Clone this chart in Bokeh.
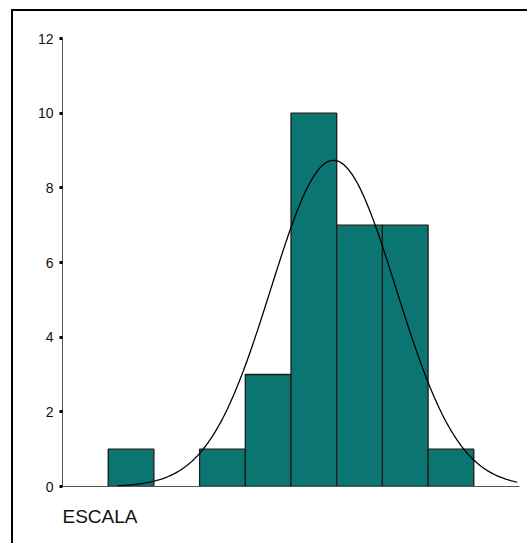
import numpy as np
from bokeh.plotting import figure
from bokeh.models import Range1d, FixedTicker, Title, ColumnDataSource
from bokeh.embed import file_html
from bokeh.resources import INLINE

# ---- data ----
bin_edges = [0, 1, 2, 3, 4, 5, 6, 7, 8, 9, 10]
counts = [0, 1, 0, 1, 3, 10, 7, 7, 1, 0]
y_ticks = [0, 2, 4, 6, 8, 10, 12]
x_title = "ESCALA"
# normal curve overlay parameters (fitted, in bin units)
curve_mean = 5.93
curve_sd = 1.37
curve_n = 30
curve_start = 1.2
curve_end = 9.95

bars = ColumnDataSource(dict(
    left=[bin_edges[i] for i, c in enumerate(counts) if c > 0],
    right=[bin_edges[i + 1] for i, c in enumerate(counts) if c > 0],
    top=[c for c in counts if c > 0],
))

xs = np.linspace(curve_start, curve_end, 300)
bw = bin_edges[1] - bin_edges[0]
ys = curve_n * bw / (curve_sd * np.sqrt(2 * np.pi)) * np.exp(-0.5 * ((xs - curve_mean) / curve_sd) ** 2)

p = figure(width=516, height=534, output_backend="svg", toolbar_location=None,
           x_range=Range1d(0, 10), y_range=Range1d(0, 12),
           min_border_left=49, min_border_top=27, min_border_right=10, min_border_bottom=59)
p.styles = {"margin-left": "11px", "margin-top": "9px",
            "border-top": "2px solid black", "border-left": "2px solid black"}

p.outline_line_color = None
p.grid.visible = False
p.background_fill_color = "white"
p.border_fill_color = "white"

p.quad(left="left", right="right", bottom=0, top="top", source=bars,
       fill_color="#0b7671", line_color="#1c1c1c", line_width=1.3)
p.line(xs, ys, line_color="black", line_width=1.3)

ya = p.yaxis[0]
ya.ticker = FixedTicker(ticks=y_ticks)
ya.axis_line_color = "#555555"
ya.axis_line_width = 1
ya.major_tick_line_color = "black"
ya.major_tick_line_width = 3
ya.major_tick_out = 3
ya.major_tick_in = 0
ya.minor_tick_line_color = None
ya.major_label_text_font = "Liberation Sans"
ya.major_label_text_font_size = "14px"
ya.major_label_text_color = "#111111"
ya.major_label_standoff = 6

xa = p.xaxis[0]
xa.ticker = FixedTicker(ticks=[])
xa.axis_line_color = "#555555"
xa.axis_line_width = 1
xa.major_tick_line_color = None
xa.minor_tick_line_color = None
xa.major_label_text_font_size = "0px"

p.add_layout(Title(text=x_title, align="left", text_font="Liberation Sans",
                   text_font_size="19px", text_font_style="normal",
                   text_color="#111111", standoff=34), "below")

open("out.html", "w").write(file_html(p, INLINE))
